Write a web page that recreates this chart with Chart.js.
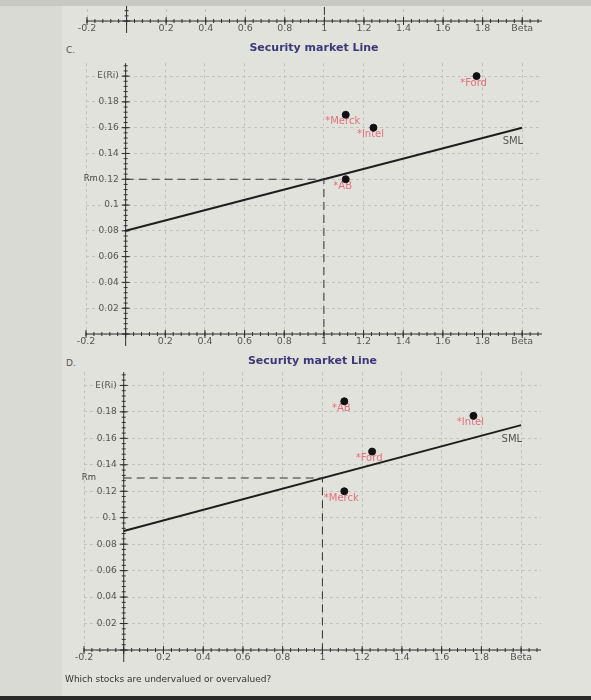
<!DOCTYPE html>
<html lang="en">
<head>
  <meta charset="UTF-8">
  <script src="https://cdn.jsdelivr.net/npm/chart.js"></script>
  <style>
body {
  margin: 0;
  width: 591px;
  height: 700px;
  position: relative;
  overflow: hidden;
  background: #dadad5;
  font-family: "DejaVu Sans", sans-serif;
}
.panel { position: absolute; left: 62px; top: 6px; right: 0; bottom: 4px; background: #e2e2dd; }
.topbar { position: absolute; left: 0; top: 0; right: 0; height: 6px; background: #c9c9c4; }
.bottombar { position: absolute; left: 0; right: 0; bottom: 0; height: 4px; background: #2a2a2a; }
canvas { position: absolute; left: 0; }
.strip { position: absolute; left: 0; top: 6px; width: 591px; height: 32px; overflow: hidden; }
.tag { position: absolute; left: 66px; font-size: 9px; color: #555; }
.question { position: absolute; left: 65px; top: 674px; font-size: 9px; color: #333; }
  </style>
</head>
<body>
  <div class="topbar"></div>
  <div class="panel"></div>
  <div class="bottombar"></div>

  <div class="strip"><canvas id="chartB" width="591" height="300" style="top:-265px"></canvas></div>
  <div class="tag" style="top:45px">C.</div>
  <canvas id="chartC" width="591" height="316" style="top:38px"></canvas>
  <div class="tag" style="top:358px">D.</div>
  <canvas id="chartD" width="591" height="320" style="top:350px"></canvas>
  <div class="question">Which stocks are undervalued or overvalued?</div>

  <script>
    // axis ticks
    const xTickVals = [-0.2, 0, 0.2, 0.4, 0.6, 0.8, 1, 1.2, 1.4, 1.6, 1.8, 2];
    const xTickLabels = ['-0.2', '', '0.2', '0.4', '0.6', '0.8', '1', '1.2', '1.4', '1.6', '1.8', 'Beta'];
    const yTickVals = [0, 0.02, 0.04, 0.06, 0.08, 0.1, 0.12, 0.14, 0.16, 0.18, 0.2];
    const yTickLabels = ['', '0.02', '0.04', '0.06', '0.08', '0.1', '0.12', '0.14', '0.16', '0.18', 'E(Ri)'];

    // SML end points (beta)
    const smlBeta = [0, 2];

    // panel C
    const smlC = [0.08, 0.16];
    const rmC = 0.12;
    const stocksC = ['Merck', 'Intel', 'AB', 'Ford'];
    const betaC = [1.11, 1.25, 1.11, 1.77];
    const retC = [0.17, 0.16, 0.12, 0.20];

    // panel D
    const smlD = [0.09, 0.17];
    const rmD = 0.13;
    const stocksD = ['AB', 'Intel', 'Ford', 'Merck'];
    const betaD = [1.11, 1.76, 1.25, 1.11];
    const retD = [0.188, 0.177, 0.15, 0.12];

    // panel B (only its bottom edge is visible)
    const rmB = 0.12;

    // axis lines through the origin, crossing ticks, y labels, Rm and point names
    const axesPlugin = {
      id: 'axes',
      beforeDatasetsDraw(chart) {
        const { ctx, chartArea: a, scales: { x, y } } = chart;
        const x0 = x.getPixelForValue(0);
        const y0 = y.getPixelForValue(0);
        ctx.save();
        ctx.strokeStyle = '#2f2f2f';
        ctx.lineWidth = 1;
        ctx.beginPath();
        ctx.moveTo(a.left, y0); ctx.lineTo(a.right, y0);
        ctx.moveTo(x0, a.top); ctx.lineTo(x0, y0 + 12);
        xTickVals.forEach(v => {
          const px = x.getPixelForValue(v);
          ctx.moveTo(px, y0 - 4); ctx.lineTo(px, y0 + 4);
        });
        yTickVals.forEach(v => {
          const py = y.getPixelForValue(v);
          ctx.moveTo(x0 - 4, py); ctx.lineTo(x0 + 4, py);
        });
        for (let i = 0; i < 58; i++) {
          const px = x.getPixelForValue(-0.2 + i * 0.04);
          ctx.moveTo(px, y0 - 2); ctx.lineTo(px, y0 + 2);
        }
        for (let i = 0; i < 53; i++) {
          const py = y.getPixelForValue(i * 0.004);
          ctx.moveTo(x0 - 2, py); ctx.lineTo(x0 + 2, py);
        }
        ctx.stroke();

        ctx.font = '9px "DejaVu Sans"';
        ctx.textBaseline = 'middle';
        ctx.fillStyle = '#555';
        ctx.textAlign = 'right';
        yTickVals.forEach((v, i) => {
          ctx.fillText(yTickLabels[i], x0 - 7, y.getPixelForValue(v));
        });

        const rm = chart.options.plugins.axes.rm;
        if (rm !== undefined) {
          ctx.font = '8.5px "DejaVu Sans"';
          ctx.fillStyle = '#444';
          ctx.textAlign = 'left';
          ctx.fillText('Rm', x0 - 42, y.getPixelForValue(rm));
        }
        chart.data.datasets.forEach((ds, di) => {
          const meta = chart.getDatasetMeta(di);
          if (ds.names) {
            ctx.font = '10px "DejaVu Sans"';
            ctx.fillStyle = '#e4707d';
            ctx.textAlign = 'center';
            meta.data.forEach((pt, i) => {
              ctx.fillText('*' + ds.names[i], pt.x - 3, pt.y + 7);
            });
          }
          if (ds.tag) {
            const end = meta.data[meta.data.length - 1];
            ctx.font = '10px "DejaVu Sans"';
            ctx.fillStyle = '#555';
            ctx.textAlign = 'right';
            ctx.fillText(ds.tag, end.x + 1, end.y + 14);
          }
        });
        ctx.restore();
      }
    };

    function rmGuide(rm) {
      return {
        type: 'line',
        data: [{ x: 0, y: rm }, { x: 1, y: rm }, { x: 1, y: 0 }],
        borderColor: '#333',
        borderWidth: 1,
        borderDash: [8, 5],
        pointRadius: 0,
        fill: false
      };
    }

    function makeChart(id, datasets, opts) {
      return new Chart(document.getElementById(id), {
        type: 'scatter',
        data: { datasets: datasets },
        plugins: [axesPlugin],
        options: {
          responsive: false,
          animation: false,
          devicePixelRatio: 1,
          layout: { padding: { left: opts.left, right: opts.right, top: opts.top || 0, bottom: 0 } },
          plugins: {
            legend: { display: false },
            tooltip: { enabled: false },
            axes: { rm: opts.rm },
            title: {
              display: !!opts.title,
              text: opts.title || '',
              color: '#3d3878',
              font: { family: 'DejaVu Sans', size: 11, weight: 'bold' },
              padding: opts.titlePad
            }
          },
          scales: {
            x: {
              type: 'linear',
              min: -0.2,
              max: 2.1,
              afterBuildTicks: s => { s.ticks = xTickVals.map(v => ({ value: v })); },
              afterFit: s => { s.height = 20; },
              ticks: {
                callback: (v, i) => xTickLabels[i],
                color: '#555',
                font: { family: 'DejaVu Sans', size: 9.5 },
                padding: 2,
                maxRotation: 0,
                autoSkip: false
              },
              grid: { color: '#c3c3be', drawTicks: false },
              border: { display: false, dash: [3, 3] }
            },
            y: {
              type: 'linear',
              position: { x: 0 },
              min: 0,
              max: 0.21,
              afterBuildTicks: s => { s.ticks = yTickVals.map(v => ({ value: v })); },
              ticks: { display: false },
              grid: { color: '#c3c3be', drawTicks: false },
              border: { display: false, dash: [3, 3] }
            }
          }
        }
      });
    }

    function smlSet(vals) {
      return {
        type: 'line',
        tag: 'SML',
        data: smlBeta.map((b, i) => ({ x: b, y: vals[i] })),
        borderColor: '#1e1e1e',
        borderWidth: 2,
        pointRadius: 0,
        fill: false
      };
    }

    function stockSet(names, betas, rets) {
      return {
        names: names,
        data: betas.map((b, i) => ({ x: b, y: rets[i] })),
        backgroundColor: '#111',
        borderColor: '#111',
        pointRadius: 3.5
      };
    }

    makeChart('chartB', [rmGuide(rmB)], { left: 87, right: 49, top: 10 });

    makeChart('chartC', [rmGuide(rmC), smlSet(smlC), stockSet(stocksC, betaC, retC)], {
      left: 86, right: 49, rm: rmC,
      title: 'Security market Line', titlePad: { top: 4, bottom: 8 }
    });

    makeChart('chartD', [rmGuide(rmD), smlSet(smlD), stockSet(stocksD, betaD, retD)], {
      left: 84, right: 50, rm: rmD,
      title: 'Security market Line', titlePad: { top: 5, bottom: 4 }
    });
  </script>
</body>
</html>
